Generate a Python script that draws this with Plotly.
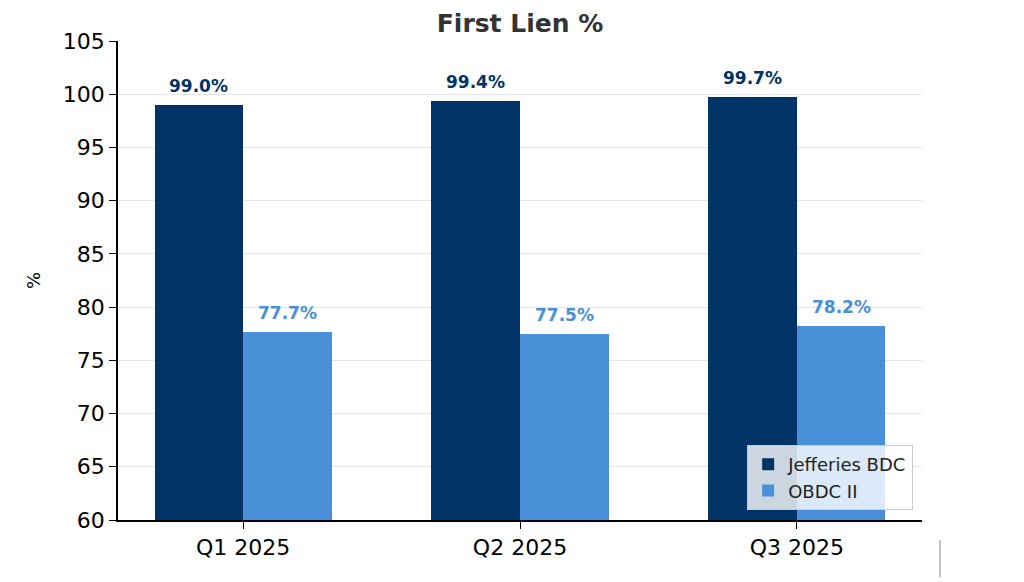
import plotly.graph_objects as go

quarters = ["Q1 2025", "Q2 2025", "Q3 2025"]
jefferies = [99.0, 99.4, 99.7]
obdc = [77.7, 77.5, 78.2]
series_names = ["Jefferies BDC", "OBDC II"]
colors = ["#003366", "#4A90D9"]
yticks = [60, 65, 70, 75, 80, 85, 90, 95, 100, 105]

bw = 0.32
xs = list(range(len(quarters)))
FONT = "DejaVu Sans"

fig = go.Figure()
for k, (vals, name, col) in enumerate(zip([jefferies, obdc], series_names, colors)):
    fig.add_trace(go.Bar(
        x=xs, y=vals, name=name, marker=dict(color=col, line=dict(width=0)),
        width=bw, offset=-bw if k == 0 else 0,
    ))
    for i, v in enumerate(vals):
        fig.add_annotation(
            x=i + (-bw / 2 if k == 0 else bw / 2), y=v, text=f"{v:.1f}%",
            showarrow=False, yanchor="bottom", yshift=7,
            font=dict(family=FONT, size=17, color=col, weight="bold"),
        )

fig.update_layout(
    width=1024, height=582,
    margin=dict(l=110, r=110, t=33, b=70),
    paper_bgcolor="white", plot_bgcolor="white",
    font=dict(family=FONT, color="#000000"),
    title=dict(text="<b>First Lien %</b>", x=0.5, xref="paper", xanchor="center",
               y=1 - 15 / 582, yanchor="middle",
               font=dict(family=FONT, size=25, color="#333333")),
    bargap=0,
    legend=dict(
        x=0.989, y=0.021, xanchor="right", yanchor="bottom",
        bgcolor="rgba(255,255,255,0.8)", bordercolor="#cccccc", borderwidth=1,
        font=dict(family=FONT, size=18, color="#222222"),
        tracegroupgap=0,
    ),
    showlegend=True,
)
fig.update_xaxes(
    range=[-0.452, 2.452], tickmode="array", tickvals=xs, ticktext=quarters,
    showline=True, linecolor="#000000", linewidth=1.5,
    ticks="outside", ticklen=7, tickcolor="#000000", tickwidth=1.2,
    showgrid=False, zeroline=False,
    tickfont=dict(family=FONT, size=22, color="#000000"),
)
fig.update_yaxes(
    range=[60, 105], tickmode="array", tickvals=yticks,
    showline=True, linecolor="#000000", linewidth=1.5,
    ticks="outside", ticklen=7, tickcolor="#000000", tickwidth=1.2,
    showgrid=True, gridcolor="#e6e6e6", gridwidth=1, zeroline=False,
    tickfont=dict(family=FONT, size=22, color="#000000"),
    title=dict(text="%", font=dict(family=FONT, size=18, color="#000000"), standoff=18),
)
fig.add_shape(type="line", xref="paper", yref="paper",
              x0=(940 - 118) / 804, x1=(940 - 118) / 804,
              y0=-(540 - 520) / 479, y1=-(577 - 520) / 479,
              line=dict(color="#888888", width=1))

fig.write_html("out.html")
